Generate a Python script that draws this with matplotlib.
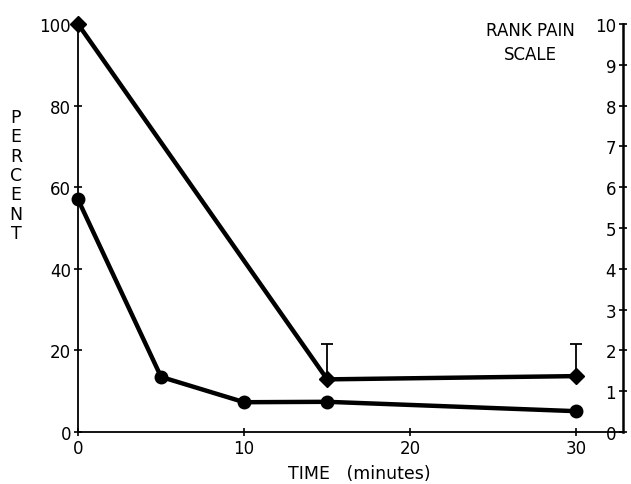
import matplotlib
matplotlib.use("Agg")
import matplotlib.pyplot as plt

# percent curve (circles, left axis)
time_pct = [0, 5, 10, 15, 30]
percent = [57, 13.5, 7.3, 7.4, 5.1]

# rank pain scale (diamonds, right axis)
time_pain = [0, 15, 30]
pain = [10, 1.29, 1.37]
pain_err_up = [0, 0.86, 0.78]

x_ticks = [0, 10, 20, 30]
left_ticks = [0, 20, 40, 60, 80, 100]
right_ticks = list(range(0, 11))

plt.rcParams['font.family'] = 'DejaVu Sans'
fig = plt.figure(figsize=(6.31, 4.85), dpi=100)
ax = fig.add_axes([78 / 631, 1 - 433 / 485, (623 - 78) / 631, (433 - 25) / 485])

ax.plot(time_pct, percent, color='black', lw=3.2, marker='o', ms=9, zorder=3, clip_on=False)
ax.set_xlim(0, 32.8)
ax.set_ylim(0, 100)
ax.set_xticks(x_ticks)
ax.set_yticks(left_ticks)
ax.tick_params(direction='inout', length=6, width=1.2, labelsize=12, pad=2)
for s in ['top', 'right']:
    ax.spines[s].set_visible(False)
for s in ['left', 'bottom']:
    ax.spines[s].set_linewidth(1.3)

ax2 = ax.twinx()
ax2.errorbar(time_pain, pain, yerr=[[0] * len(pain_err_up), pain_err_up], fmt='none',
             ecolor='black', elinewidth=1.3, capsize=4, capthick=1.3, zorder=2)
ax2.plot(time_pain, pain, color='black', lw=3.2, marker='D', ms=8.5, zorder=3, clip_on=False)
ax2.set_ylim(0, 10)
ax2.set_yticks(right_ticks)
ax2.spines['right'].set_visible(False)
ax2.spines['top'].set_visible(False)
ax2.spines['bottom'].set_visible(False)
ax2.spines['left'].set_position(('axes', 1.0))
ax2.spines['left'].set_linewidth(1.8)
ax2.yaxis.set_ticks_position('left')
ax2.tick_params(direction='inout', length=6, width=1.2, labelsize=12, pad=2)

fig.text(16 / 631, 1 - 176 / 485, "P\nE\nR\nC\nE\nN\nT", ha='center', va='center',
         fontsize=12.5, linespacing=1.1)
fig.text(530 / 631, 1 - 43 / 485, "RANK PAIN\nSCALE", ha='center', va='center',
         fontsize=12, linespacing=1.5)
fig.text(359 / 631, 1 - 474 / 485, "TIME   (minutes)", ha='center', va='center', fontsize=12.5)

fig.savefig("out.png", dpi=100)
